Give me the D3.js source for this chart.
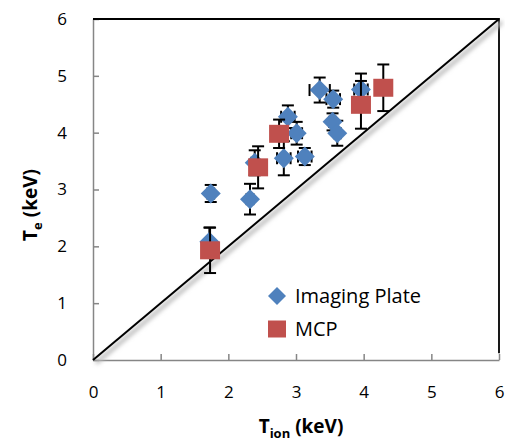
<!DOCTYPE html>
<html>
<head>
<meta charset="utf-8">
<script src="https://cdn.jsdelivr.net/npm/d3@7"></script>
<style>
  body { margin: 0; background: #fff; }
  svg { font-family: "Open Sans", "Liberation Sans", sans-serif; }
</style>
</head>
<body>
<div id="chart"></div>
<script>
// Imaging Plate series: T_ion, T_e, x error, y error
const ipX = [1.74, 1.72, 2.32, 2.39, 2.82, 3.13, 2.88, 3.01, 3.35, 3.55, 3.54, 3.61, 3.96];
const ipY = [2.93, 2.08, 2.83, 3.47, 3.55, 3.58, 4.28, 3.99, 4.75, 4.59, 4.19, 3.99, 4.76];
const ipErrX = [0.05, 0.03, 0.05, 0.05, 0.1, 0.1, 0.1, 0.08, 0.15, 0.1, 0.05, 0.05, 0.1];
const ipErrY = [0.15, 0.25, 0.27, 0.22, 0.3, 0.15, 0.2, 0.2, 0.22, 0.15, 0.15, 0.22, 0.28];

// MCP series
const mcpX = [1.73, 2.44, 2.75, 3.96, 4.29];
const mcpY = [1.93, 3.39, 3.98, 4.49, 4.79];
const mcpErrX = [0.03, 0.04, 0.04, 0.04, 0.06];
const mcpErrY = [0.4, 0.37, 0.25, 0.42, 0.41];

// y = x reference line and frame series
const diagX = [0, 6];
const diagY = [0, 6];
const frameX = [0, 6, 6];
const frameY = [6, 6, 0.12];

const xTicks = [0, 1, 2, 3, 4, 5, 6];
const yTicks = [0, 1, 2, 3, 4, 5, 6];
const seriesNames = ['Imaging Plate', 'MCP'];

const width = 505;
const height = 442;
const marginLeft = 93;
const marginRight = 6;
const marginTop = 19;
const marginBottom = 82;

const blue = '#4f81bd';
const red = '#c0504d';

const svg = d3.select('#chart').append('svg')
  .attr('width', width)
  .attr('height', height);

const defs = svg.append('defs');
defs.append('filter').attr('id', 'blur')
  .append('feGaussianBlur').attr('stdDeviation', 2);

const scaleX = d3.scaleLinear().domain([0, 6]).range([marginLeft, width - marginRight]);
const scaleY = d3.scaleLinear().domain([0, 6]).range([height - marginBottom, marginTop]);

// axes
const $xAxis = svg.append('g')
  .attr('transform', `translate(0, ${scaleY(0)})`)
  .call(d3.axisBottom(scaleX).tickValues(xTicks).tickFormat(d3.format('d'))
    .tickSizeInner(-6).tickSizeOuter(0).tickPadding(26));
const $yAxis = svg.append('g')
  .attr('transform', `translate(${scaleX(0)}, 0)`)
  .call(d3.axisLeft(scaleY).tickValues(yTicks).tickFormat(d3.format('d'))
    .tickSizeInner(-6).tickSizeOuter(0).tickPadding(26));

[$xAxis, $yAxis].forEach($a => {
  $a.select('.domain').attr('stroke', '#868686').attr('stroke-width', 1.5);
  $a.selectAll('.tick line').attr('stroke', '#868686').attr('stroke-width', 1.5);
  $a.selectAll('.tick text').attr('fill', '#000').style('font-size', '17px').style('font-family', '"Open Sans", sans-serif');
});

const line = d3.line().x(d => scaleX(d[0])).y(d => scaleY(d[1]));

// frame lines (top and right)
svg.append('path')
  .attr('d', line(frameX.map((x, i) => [x, frameY[i]])))
  .attr('fill', 'none').attr('stroke', '#000').attr('stroke-width', 1.8);

// diagonal with soft shadow
const diag = diagX.map((x, i) => [x, diagY[i]]);
svg.append('path')
  .attr('d', line(diag))
  .attr('transform', 'translate(3, 3)')
  .attr('fill', 'none').attr('stroke', '#bbb').attr('stroke-width', 4)
  .attr('filter', 'url(#blur)');
svg.append('path')
  .attr('d', line(diag))
  .attr('fill', 'none').attr('stroke', '#000').attr('stroke-width', 2);

function drawSeries(xs, ys, exs, eys, color, shape) {
  const pts = xs.map((x, i) => ({ x, y: ys[i], ex: exs[i], ey: eys[i] }));
  const $g = svg.append('g');
  const cap = 6;
  const $err = $g.append('g').attr('stroke', '#000').attr('stroke-width', 2);
  pts.forEach(d => {
    const cx = scaleX(d.x), cy = scaleY(d.y);
    const y1 = scaleY(d.y + d.ey), y2 = scaleY(d.y - d.ey);
    const x1 = scaleX(d.x - d.ex), x2 = scaleX(d.x + d.ex);
    $err.append('line').attr('x1', cx).attr('x2', cx).attr('y1', y1).attr('y2', y2);
    $err.append('line').attr('x1', cx - cap).attr('x2', cx + cap).attr('y1', y1).attr('y2', y1);
    $err.append('line').attr('x1', cx - cap).attr('x2', cx + cap).attr('y1', y2).attr('y2', y2);
    $err.append('line').attr('x1', x1).attr('x2', x2).attr('y1', cy).attr('y2', cy);
    $err.append('line').attr('x1', x1).attr('x2', x1).attr('y1', cy - cap).attr('y2', cy + cap);
    $err.append('line').attr('x1', x2).attr('x2', x2).attr('y1', cy - cap).attr('y2', cy + cap);
  });
  $g.selectAll('.marker')
    .data(pts)
    .enter()
    .append('path')
    .attr('class', 'marker')
    .attr('d', shape)
    .attr('transform', d => `translate(${scaleX(d.x)}, ${scaleY(d.y)})`)
    .attr('fill', color);
}

const diamond = 'M0,-10 L10,0 L0,10 L-10,0 Z';
const square = 'M-10,-9 L10,-9 L10,9 L-10,9 Z';

drawSeries(ipX, ipY, ipErrX, ipErrY, blue, diamond);
drawSeries(mcpX, mcpY, mcpErrX, mcpErrY, red, square);

// legend
const $legend = svg.append('g').attr('transform', 'translate(277, 296)');
[[blue, 'M0,-9 L9,0 L0,9 L-9,0 Z'], [red, 'M-9,-8.5 L9,-8.5 L9,8.5 L-9,8.5 Z']].forEach((s, i) => {
  const $row = $legend.append('g').attr('transform', `translate(0, ${i * 33})`);
  $row.append('path').attr('d', s[1]).attr('fill', s[0]);
  $row.append('text')
    .attr('x', 18).attr('y', 7)
    .style('font-size', '20px')
    .text(seriesNames[i]);
});

// axis titles
const $xt = svg.append('text')
  .attr('x', 301).attr('y', 433)
  .attr('text-anchor', 'middle')
  .style('font-size', '19px').style('font-weight', 'bold');
$xt.append('tspan').text('T');
$xt.append('tspan').attr('dy', 5).style('font-size', '13px').text('ion');
$xt.append('tspan').attr('dy', -5).text(' (keV)');

const $yt = svg.append('text')
  .attr('transform', 'translate(37, 205) rotate(-90)')
  .attr('text-anchor', 'middle')
  .style('font-size', '19px').style('font-weight', 'bold');
$yt.append('tspan').text('T');
$yt.append('tspan').attr('dy', 5).style('font-size', '13px').text('e');
$yt.append('tspan').attr('dy', -5).text(' (keV)');
</script>
</body>
</html>
